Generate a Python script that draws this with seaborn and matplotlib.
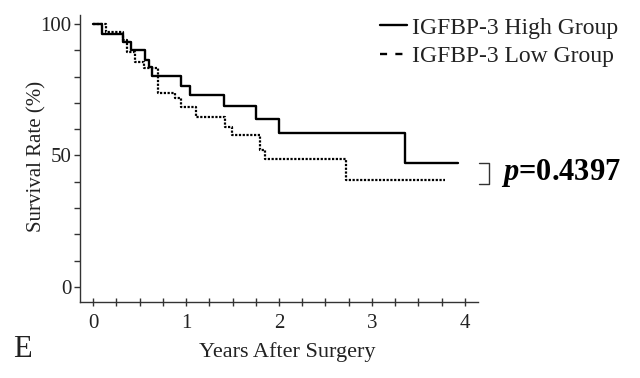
import matplotlib
matplotlib.use("Agg")
import matplotlib.pyplot as plt
from matplotlib.lines import Line2D
import seaborn as sns
import pandas as pd

# ---- data ----
high_time = [0, 0.10, 0.32, 0.41, 0.56, 0.60, 0.63, 0.95, 1.04, 1.41, 1.75, 2.00, 3.35, 3.93]
high_surv = [100, 96.2, 93.2, 90.0, 86.3, 83.5, 80.3, 76.5, 72.9, 68.8, 64.0, 58.7, 47.0, 47.0]

low_time = [0, 0.14, 0.32, 0.37, 0.45, 0.55, 0.70, 0.88, 0.95, 1.11, 1.42, 1.49, 1.80, 1.85, 2.72, 3.79]
low_surv = [100, 97.0, 94.0, 89.4, 85.6, 83.2, 73.8, 72.0, 68.3, 64.6, 61.0, 57.6, 52.0, 48.7, 40.7, 40.7]

group_labels = ["IGFBP-3 High Group", "IGFBP-3 Low Group"]
x_ticks = [0, 1, 2, 3, 4]
y_ticks = [0, 50, 100]
p_text = r"$p$=0.4397"
panel_label = "E"

sns.set_theme(style="ticks")
plt.rcParams["font.family"] = ["Liberation Serif", "DejaVu Serif"]
plt.rcParams["mathtext.fontset"] = "custom"
plt.rcParams["mathtext.it"] = "Liberation Serif:italic:bold"
plt.rcParams["mathtext.rm"] = "Liberation Serif:bold"

df_high = pd.DataFrame({"time": high_time, "surv": high_surv})
df_low = pd.DataFrame({"time": low_time, "surv": low_surv})

W, H = 640, 378
fig = plt.figure(figsize=(W / 100, H / 100), dpi=100)
fig.patch.set_facecolor("white")
ax = fig.add_axes([80 / W, 1 - 302 / H, 398 / W, 287 / H])
ax.set_facecolor("white")

solid_style = dict(color="black", linewidth=1.7)
dot_style = dict(color="black", linewidth=1.6, linestyle=(0, (1.0, 0.7)))

sns.lineplot(data=df_high, x="time", y="surv", ax=ax, drawstyle="steps-post",
             estimator=None, sort=False, **solid_style)
sns.lineplot(data=df_low, x="time", y="surv", ax=ax, drawstyle="steps-post",
             estimator=None, sort=False, **dot_style)

ax.set_xlim(-0.14, 4.14)
ax.set_ylim(-5.7, 103.4)
ax.set_xticks(x_ticks)
ax.set_xticks([i * 0.25 for i in range(0, 17)], minor=True)
ax.set_yticks(y_ticks)
ax.set_yticks(list(range(0, 101, 10)), minor=True)
ax.set_xticklabels([str(t) for t in x_ticks])
ax.set_yticklabels([str(t) for t in y_ticks])

for s in ["top", "right"]:
    ax.spines[s].set_visible(False)
for s in ["left", "bottom"]:
    ax.spines[s].set_linewidth(1.0)
    ax.spines[s].set_color("#333333")

ax.tick_params(axis="x", which="both", direction="inout", length=6, width=1.0,
               colors="#333333", labelcolor="#222222", labelsize=15, pad=6)
ax.tick_params(axis="y", which="both", direction="out", length=4, width=1.0,
               colors="#333333", labelcolor="#222222", labelsize=15, pad=2)

ax.set_xlabel("Years After Surgery", fontsize=16, color="#222222")
ax.set_ylabel("Survival Rate (%)", fontsize=15, color="#222222")
ax.xaxis.set_label_coords((287 - 80) / 398, (302 - 342) / 287)
ax.yaxis.set_label_coords((46 - 80) / 398, (302 - 156) / 287)

# bracket joining the ends of the two curves
x_end = max(high_time[-1], low_time[-1])
bx0, bx1 = x_end + 0.22, x_end + 0.33
ax.plot([bx0, bx1, bx1, bx0], [high_surv[-1], high_surv[-1], low_surv[-1] - 1.5, low_surv[-1] - 1.5],
        color="#333333", linewidth=1.0, clip_on=False)

fig.text(501 / W, 1 - 180 / H, p_text, fontsize=22, fontweight="bold",
         color="black", va="baseline", ha="left")

handles = [Line2D([0], [0], color="black", linewidth=1.7),
           Line2D([0], [0], color="black", linewidth=1.7, linestyle=(0, (3, 3.5)))]
fig.legend(handles, group_labels, loc="upper left", bbox_to_anchor=(380 / W, 1 - 17 / H),
           frameon=False, fontsize=17, handlelength=1.15, handletextpad=0.2,
           labelspacing=0.3, borderpad=0, borderaxespad=0, labelcolor="#222222")

fig.text(13 / W, 1 - 357 / H, panel_label, fontsize=22, color="#222222",
         va="baseline", ha="left")

fig.savefig("out.png", dpi=100, facecolor="white")
